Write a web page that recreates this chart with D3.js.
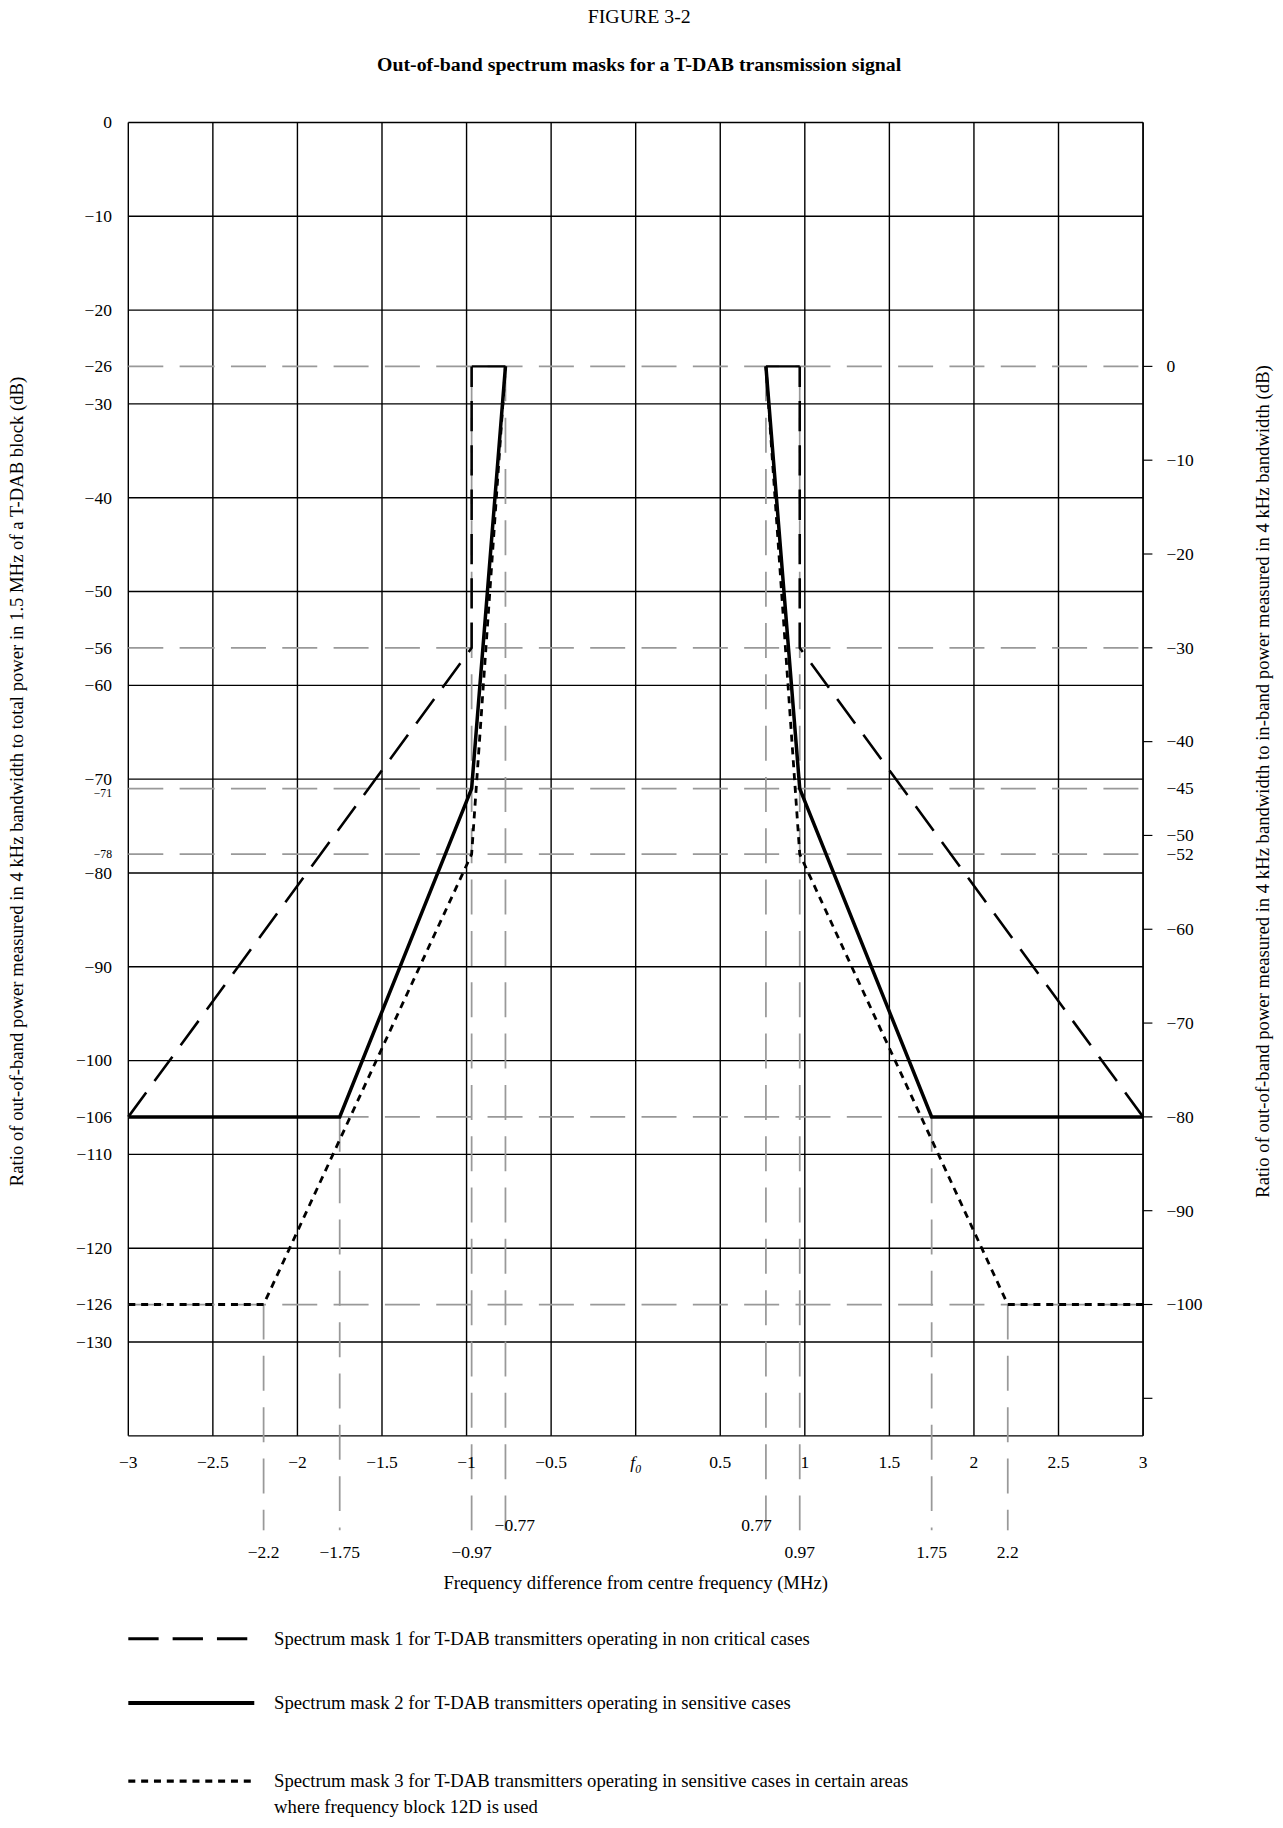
<!DOCTYPE html><html><head><script src="https://cdn.jsdelivr.net/npm/d3@7"></script>
<style>body{margin:0;background:#fff}text{font-family:"Liberation Serif","DejaVu Serif",serif;fill:#000}</style></head><body>
<svg id="c" width="1283" height="1828"></svg>
<script>
const xTicks=[-3,-2.5,-2,-1.5,-1,-0.5,0,0.5,1,1.5,2,2.5,3];
const xTickLabels=["−3","−2.5","−2","−1.5","−1","−0.5","f0","0.5","1","1.5","2","2.5","3"];
const yGrid=[0,-10,-20,-30,-40,-50,-60,-70,-80,-90,-100,-110,-120,-130,-140];
const yLeftLabels=[0,-10,-20,-26,-30,-40,-50,-56,-60,-70,-80,-90,-100,-106,-110,-120,-126,-130];
const ySmallLabels=[-71,-78];
const refLevels=[-26,-56,-71,-78,-106,-126];
const rightTicks=[0,-10,-20,-30,-40,-50,-60,-70,-80,-90,-100,-110];
const rightLabels=[0,-10,-20,-30,-40,-45,-50,-52,-60,-70,-80,-90,-100];
const mask1=[[-3,-106],[-0.97,-56],[-0.97,-26]];
const mask2=[[-3,-106],[-1.75,-106],[-0.97,-71],[-0.77,-26]];
const mask3=[[-3,-126],[-2.2,-126],[-0.97,-78],[-0.77,-26]];
const vRefs=[[0.77,-26],[0.97,-26],[1.75,-106],[2.2,-126]];
const bottomRow1=[-0.77,0.77];
const bottomRow2=[-2.2,-1.75,-0.97,0.97,1.75,2.2];

const svg=d3.select("#c").append("g").attr("transform","scale(1.1664)");
const x=d3.scaleLinear().domain([-3,3]).range([110,980]);
const y=d3.scaleLinear().domain([0,-140]).range([105,1231]);
const yr=d3.scaleLinear().domain([0,-100]).range([y(-26),y(-126)]);
const fmt=v=>String(v).replace("-","−");
svg.append("text").attr("x",548).attr("y",20).attr("text-anchor","middle").attr("font-size",17).text("FIGURE 3-2");
svg.append("text").attr("x",548).attr("y",61).attr("text-anchor","middle").attr("font-size",17).attr("font-weight","bold").text("Out-of-band spectrum masks for a T-DAB transmission signal");
svg.selectAll(".vg").data(xTicks).join("line").attr("x1",d=>x(d)).attr("x2",d=>x(d)).attr("y1",y(0)).attr("y2",y(-140)).attr("stroke","#000").attr("stroke-width",1.2);
svg.selectAll(".hg").data(yGrid).join("line").attr("x1",x(-3)).attr("x2",x(3)).attr("y1",d=>y(d)).attr("y2",d=>y(d)).attr("stroke","#000").attr("stroke-width",1.2);
svg.selectAll(".rl").data(refLevels).join("line").attr("x1",x(-3)).attr("x2",x(3)).attr("y1",d=>y(d)).attr("y2",d=>y(d)).attr("stroke","#999").attr("stroke-width",1.5).attr("stroke-dasharray","30,14");
const vr=vRefs.flatMap(([a,b])=>[[a,b],[-a,b]]);
svg.selectAll(".vr").data(vr).join("line").attr("x1",d=>x(d[0])).attr("x2",d=>x(d[0])).attr("y1",d=>y(d[1])).attr("y2",1312).attr("stroke","#999").attr("stroke-width",1.5).attr("stroke-dasharray","30,14");
svg.append("line").attr("x1",x(-0.97)).attr("x2",x(-0.77)).attr("y1",y(-26)).attr("y2",y(-26)).attr("stroke","#000").attr("stroke-width",2);
svg.append("line").attr("x1",x(0.77)).attr("x2",x(0.97)).attr("y1",y(-26)).attr("y2",y(-26)).attr("stroke","#000").attr("stroke-width",2);
svg.selectAll(".xl").data(xTicks).join("text").attr("x",d=>x(d)).attr("y",1259).attr("text-anchor","middle").attr("font-size",15).text((d,i)=>xTickLabels[i]==="f0"?"":xTickLabels[i]);
const f0=svg.append("text").attr("x",x(0)).attr("y",1259).attr("text-anchor","middle").attr("font-size",15).attr("font-style","italic");
f0.append("tspan").text("f");f0.append("tspan").attr("font-size",10).attr("dy",4).text("0");
svg.selectAll(".b1").data(bottomRow1).join("text").attr("x",d=>x(d)+(d<0?8:-8)).attr("y",1313).attr("text-anchor","middle").attr("font-size",15).text(fmt);
svg.selectAll(".b2").data(bottomRow2).join("text").attr("x",d=>x(d)).attr("y",1336).attr("text-anchor","middle").attr("font-size",15).text(fmt);
svg.append("text").attr("x",545).attr("y",1362).attr("text-anchor","middle").attr("font-size",16).text("Frequency difference from centre frequency (MHz)");
svg.selectAll(".yl").data(yLeftLabels).join("text").attr("x",96).attr("y",d=>y(d)+5).attr("text-anchor","end").attr("font-size",15).text(fmt);
svg.selectAll(".ys").data(ySmallLabels).join("text").attr("x",96).attr("y",d=>y(d)+(d===-71?7:3)).attr("text-anchor","end").attr("font-size",10).text(fmt);
svg.selectAll(".rt").data(rightTicks).join("line").attr("x1",x(3)).attr("x2",x(3)+8).attr("y1",d=>yr(d)).attr("y2",d=>yr(d)).attr("stroke","#000");
svg.selectAll(".rlab").data(rightLabels).join("text").attr("x",1000).attr("y",d=>yr(d)+5).attr("font-size",15).text(fmt);
svg.append("line").attr("x1",x(3)).attr("x2",x(3)).attr("y1",y(0)).attr("y2",y(-140)).attr("stroke","#000").attr("stroke-width",1.2);
svg.append("text").attr("transform","translate(20,670) rotate(-90)").attr("text-anchor","middle").attr("font-size",16).text("Ratio of out-of-band power measured in 4 kHz bandwidth to total power in 1.5 MHz of a T-DAB block (dB)");
svg.append("text").attr("transform","translate(1088,670) rotate(-90)").attr("text-anchor","middle").attr("font-size",16).text("Ratio of out-of-band power measured in 4 kHz bandwidth to in-band power measured in 4 kHz bandwidth (dB)");
const line=d3.line().x(d=>x(d[0])).y(d=>y(d[1]));
const styles=[{d:mask1,w:2.2,da:"26,12"},{d:mask2,w:3,da:null},{d:mask3,w:2.4,da:"6,5"}];
styles.forEach(s=>{[1,-1].forEach(sg=>{
 svg.append("path").attr("d",line(s.d.map(p=>[p[0]*sg,p[1]]))).attr("fill","none").attr("stroke","#000").attr("stroke-width",s.w).attr("stroke-dasharray",s.da);
});});
const legTexts=[["Spectrum mask 1 for T-DAB transmitters operating in non critical cases"],["Spectrum mask 2 for T-DAB transmitters operating in sensitive cases"],["Spectrum mask 3 for T-DAB transmitters operating in sensitive cases in certain areas","where frequency block 12D is used"]];
const ly=[1405,1460,1527];
styles.forEach((s,i)=>{
 svg.append("line").attr("x1",110).attr("x2",218).attr("y1",ly[i]).attr("y2",ly[i]).attr("stroke","#000").attr("stroke-width",s.w+0.5).attr("stroke-dasharray",s.da);
 legTexts[i].forEach((t,j)=>svg.append("text").attr("x",235).attr("y",ly[i]+5+j*22).attr("font-size",16).text(t));
});
</script></body></html>
